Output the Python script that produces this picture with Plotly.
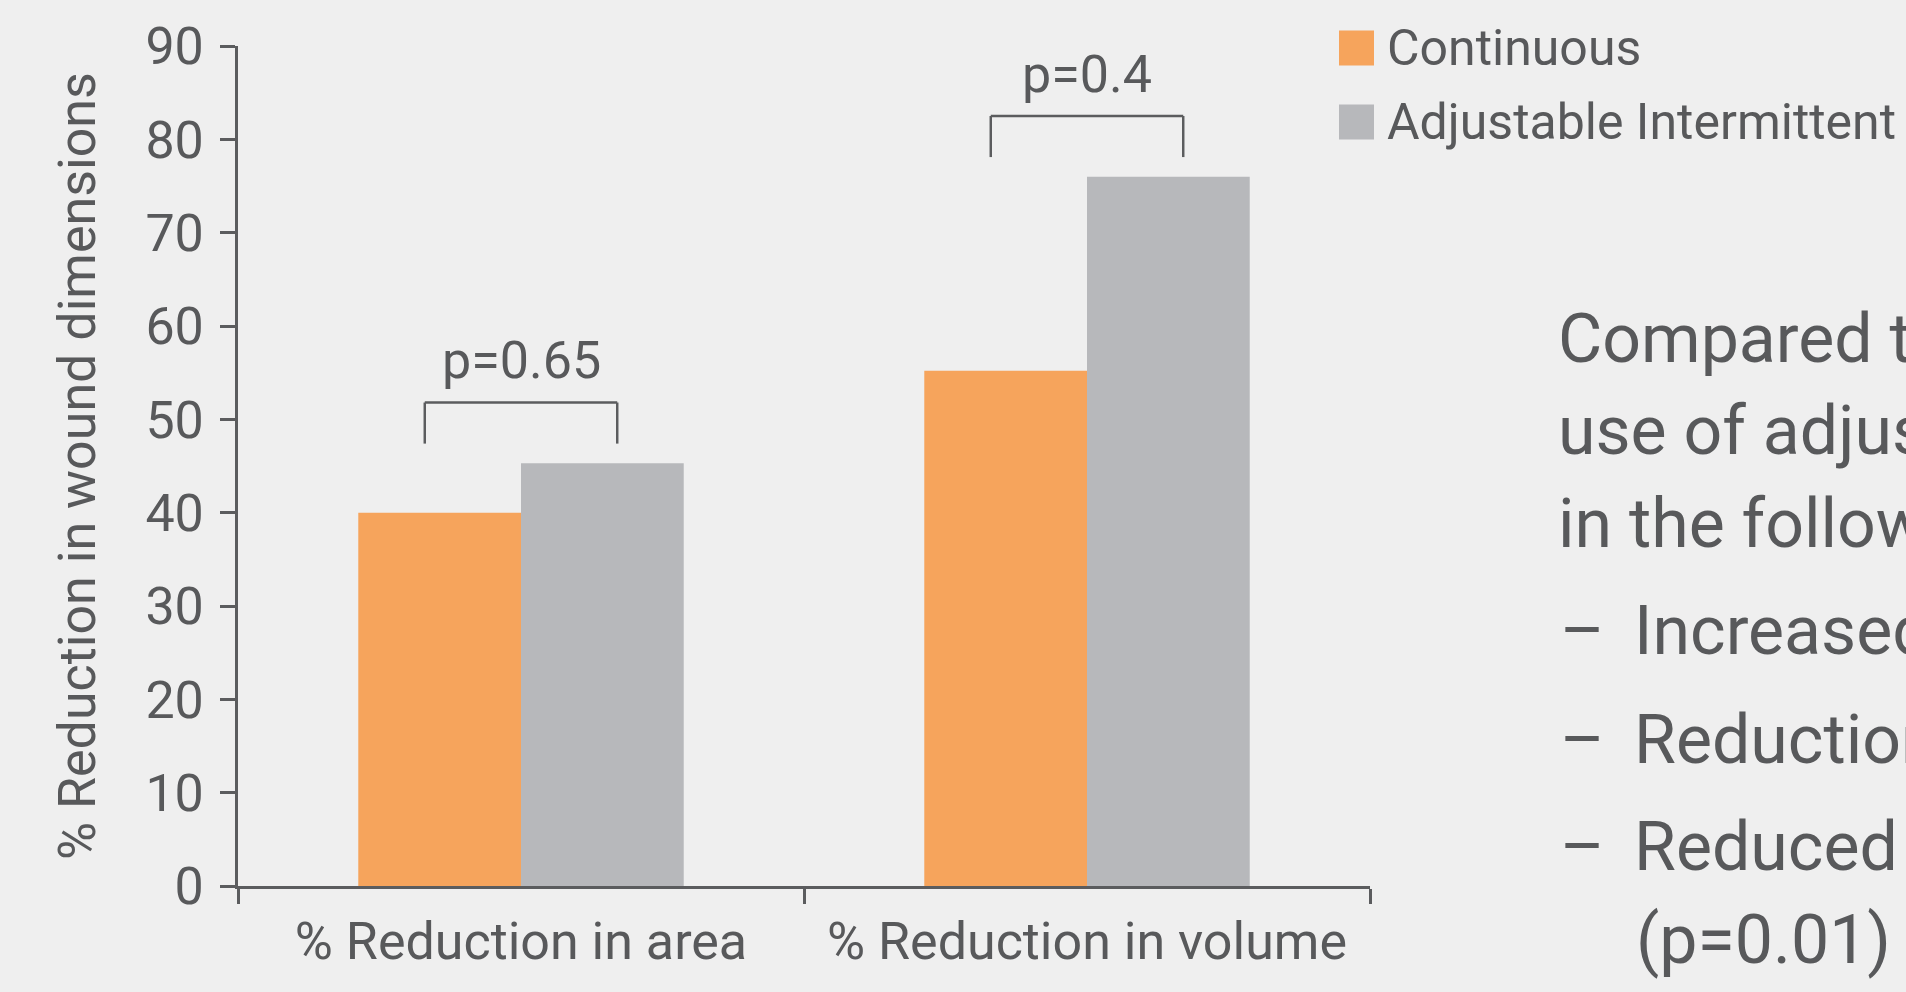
import plotly.graph_objects as go

# ---- data ----
categories = ["% Reduction in area", "% Reduction in volume"]
continuous = [40.0, 55.2]
adjustable = [45.3, 76.0]
p_labels = ["p=0.65", "p=0.4"]
series_names = ["Continuous", "Adjustable Intermittent"]
y_ticks = [0, 10, 20, 30, 40, 50, 60, 70, 80, 90]

summary_lines = ["Compared to", "use of adjustable", "in the following"]
bullet_lines = ["Increased", "Reduction", "Reduced"]
bullet_tail = "(p=0.01)"

# ---- style ----
ORANGE = "#F6A45C"
GREY = "#B7B8BB"
INK = "#58595B"
AXIS = "#5B5C5E"
BG = "#EFEFEF"
FONT = "Roboto, 'Open Sans', sans-serif"

W, H = 1906, 992
ML, MR, MT, MB = 238, 536, 46, 106
PW = W - ML - MR
PH = H - MT - MB


def paper_x(px):
    return (px - ML) / PW


def paper_y(py):
    return (H - MB - py) / PH


fig = go.Figure()
fig.add_trace(go.Bar(x=categories, y=continuous, name=series_names[0],
                     marker=dict(color=ORANGE, line=dict(width=0))))
fig.add_trace(go.Bar(x=categories, y=adjustable, name=series_names[1],
                     marker=dict(color=GREY, line=dict(width=0))))

shapes = []
annotations = []

# significance brackets with p-values
for i, cat in enumerate(categories):
    top = max(continuous[i], adjustable[i]) + 6.5
    bottom = top - 4.4
    x0, x1 = i - 0.17, i + 0.17
    line = dict(color=AXIS, width=2.5)
    shapes.append(dict(type="line", xref="x", yref="y", x0=x0, x1=x0, y0=bottom, y1=top, line=line))
    shapes.append(dict(type="line", xref="x", yref="y", x0=x0, x1=x1, y0=top, y1=top, line=line))
    shapes.append(dict(type="line", xref="x", yref="y", x0=x1, x1=x1, y0=top, y1=bottom, line=line))
    annotations.append(dict(x=cat, y=top, xref="x", yref="y", text=p_labels[i],
                            showarrow=False, xanchor="center", yanchor="middle", yshift=42,
                            font=dict(family=FONT, size=52, color=INK)))

# legend swatches
for k, (name, color) in enumerate(zip(series_names, [ORANGE, GREY])):
    cy = 48 + k * 74
    shapes.append(dict(type="rect", xref="paper", yref="paper",
                       x0=paper_x(1339), x1=paper_x(1374),
                       y0=paper_y(cy + 17.5), y1=paper_y(cy - 17.5),
                       fillcolor=color, line=dict(width=0)))
    annotations.append(dict(x=paper_x(1385), y=paper_y(cy), xref="paper", yref="paper",
                            text=name, showarrow=False, xanchor="left", yanchor="middle",
                            font=dict(family=FONT, size=50, color=INK)))

# y-axis title
annotations.append(dict(x=paper_x(77), y=0.5, xref="paper", yref="paper",
                        text="% Reduction in wound dimensions", textangle=-90,
                        showarrow=False, xanchor="center", yanchor="middle",
                        font=dict(family=FONT, size=52, color=INK)))

# summary text block on the right
BODY = 68
shift = 0.34 * BODY
for j, txt in enumerate(summary_lines):
    base = [362, 454, 547][j]
    annotations.append(dict(x=paper_x(1556), y=paper_y(base - shift), xref="paper", yref="paper",
                            text=txt, showarrow=False, xanchor="left", yanchor="middle",
                            font=dict(family=FONT, size=BODY, color=INK)))
for j, txt in enumerate(bullet_lines):
    base = [654, 763, 870][j]
    annotations.append(dict(x=paper_x(1558), y=paper_y(base - shift), xref="paper", yref="paper",
                            text="–", showarrow=False, xanchor="left", yanchor="middle",
                            font=dict(family=FONT, size=BODY, color=INK)))
    annotations.append(dict(x=paper_x(1632), y=paper_y(base - shift), xref="paper", yref="paper",
                            text=txt, showarrow=False, xanchor="left", yanchor="middle",
                            font=dict(family=FONT, size=BODY, color=INK)))
annotations.append(dict(x=paper_x(1634), y=paper_y(963 - shift), xref="paper", yref="paper",
                        text=bullet_tail, showarrow=False, xanchor="left", yanchor="middle",
                        font=dict(family=FONT, size=BODY, color=INK)))

fig.update_layout(
    width=W, height=H,
    margin=dict(l=ML, r=MR, t=MT, b=MB, pad=0),
    paper_bgcolor=BG, plot_bgcolor=BG,
    barmode="group", bargap=0.425, bargroupgap=0,
    showlegend=False,
    font=dict(family=FONT, color=INK),
    shapes=shapes, annotations=annotations,
    xaxis=dict(type="category", showline=True, linecolor=AXIS, linewidth=2.5,
               ticks="outside", tickson="boundaries", ticklen=15, tickwidth=2.5, tickcolor=AXIS,
               ticklabelstandoff=8,
               tickfont=dict(family=FONT, size=52, color=INK), showgrid=False, zeroline=False,
               automargin=False),
    yaxis=dict(range=[0, 90], tickvals=y_ticks, showline=True, linecolor=AXIS, linewidth=2.5,
               ticks="outside", ticklen=15, tickwidth=2.5, tickcolor=AXIS,
               ticklabelstandoff=6,
               tickfont=dict(family=FONT, size=52, color=INK), showgrid=False, zeroline=False,
               automargin=False),
)

fig.write_html("out.html")
